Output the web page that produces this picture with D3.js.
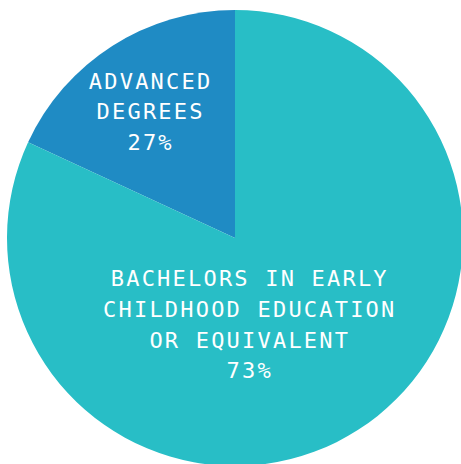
<!DOCTYPE html>
<html>
<head>
<meta charset="utf-8">
<script src="https://cdn.jsdelivr.net/npm/d3@7"></script>
<style>
  html, body { margin: 0; padding: 0; background: #fff; }
  svg { display: block; }
</style>
</head>
<body>
<svg id="chart" width="461" height="464"></svg>
<script>
// Category names (label lines) and the percentages printed on the chart
const categories = ["Advanced degrees", "Bachelors in early childhood education or equivalent"];
const labelLines = [
  ["ADVANCED", "DEGREES"],
  ["BACHELORS IN EARLY", "CHILDHOOD EDUCATION", "OR EQUIVALENT"]
];
const percentLabels = ["27%", "73%"];
// Slice shares as drawn in the picture (the wedge geometry)
const sliceShares = [18.1, 81.9];
const colors = ["#1f8bc4", "#28bec6"];

const W = 461, H = 464;
const cx = 235, cy = 238, R = 228;
// label anchors, relative to centre, in units of radius
const labelAnchor = [[-0.375, -0.555], [0.06, 0.378]];
const lineH = 30.8;

const svg = d3.select("#chart");
const g = svg.append("g").attr("transform", `translate(${cx},${cy})`);

const total = d3.sum(sliceShares);
const start = -2 * Math.PI * sliceShares[0] / total;
const pie = d3.pie().sort(null).value(d => d).startAngle(start).endAngle(start + 2 * Math.PI);
const arc = d3.arc().innerRadius(0).outerRadius(R);

const arcs = pie(sliceShares);
g.selectAll("path").data(arcs).join("path")
  .attr("d", arc)
  .attr("fill", (d, i) => colors[i]);

arcs.forEach((d, i) => {
  const lines = labelLines[i].concat([percentLabels[i]]);
  const x = labelAnchor[i][0] * R, y = labelAnchor[i][1] * R;
  const t = g.append("text")
    .attr("text-anchor", "middle")
    .attr("fill", "#fff")
    .attr("font-family", "'DejaVu Sans Mono', monospace")
    .attr("font-size", 22)
    .attr("letter-spacing", 2.2);
  lines.forEach((ln, k) => {
    t.append("tspan")
      .attr("x", x + 1.1)
      .attr("y", y + (k - (lines.length - 1) / 2) * lineH)
      .attr("dy", "0.36em")
      .text(ln);
  });
});
</script>
</body>
</html>
